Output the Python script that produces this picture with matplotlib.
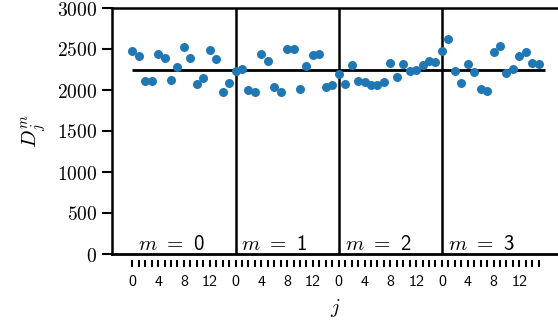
import numpy as np
import matplotlib
matplotlib.use("Agg")
import matplotlib.pyplot as plt
from matplotlib.ticker import FuncFormatter, MultipleLocator

plt.rcParams['mathtext.fontset'] = 'cm'

# D_j^m for m = 0..3, j = 0..15
d_m0 = [2472, 2418, 2113, 2113, 2439, 2390, 2122, 2280,
        2528, 2390, 2073, 2142, 2488, 2382, 1980, 2081]
d_m1 = [2228, 2252, 2000, 1972, 2435, 2350, 2033, 1980,
        2504, 2504, 2008, 2293, 2427, 2439, 2033, 2061]
d_m2 = [2191, 2069, 2309, 2113, 2098, 2061, 2061, 2094,
        2325, 2155, 2321, 2236, 2244, 2309, 2354, 2337]
d_m3 = [2470, 2616, 2236, 2085, 2317, 2216, 2012, 1992,
        2467, 2532, 2207, 2256, 2411, 2463, 2329, 2317]
groups = [d_m0, d_m1, d_m2, d_m3]
mean_level = 2250
n_j = 16
j_labels = [0, 4, 8, 12]

fig = plt.figure(figsize=(5.58, 3.29), dpi=100)
ax = fig.add_axes([112 / 558, 1 - 254 / 329, 446 / 558, 246 / 329])

values = np.concatenate(groups)
xpos = np.arange(len(values))
ax.scatter(xpos, values, s=42, color='#1f77b4', zorder=3, linewidths=0)

ax.hlines(mean_level, 0, len(groups) * n_j, color='black', lw=2, zorder=2)
for m in range(1, len(groups)):
    ax.axvline(m * n_j, color='black', lw=1.8, zorder=2)
for m in range(len(groups)):
    ax.text(m * n_j + 0.9, 45, rf'$m$ $=$ {m}', fontsize=15, family='cmss10',
            ha='left', va='baseline')

ax.axhline(0, color='black', lw=2, clip_on=False, zorder=4)

ax.set_xlim(-3.15, 66.0)
ax.set_ylim(0, 3000)

ax.spines['right'].set_visible(False)
ax.spines['bottom'].set_visible(False)
ax.spines['bottom'].set_position(('outward', 4))
for s in ['left', 'top']:
    ax.spines[s].set_linewidth(1.8)

ax.yaxis.set_major_locator(MultipleLocator(500))
ax.yaxis.set_major_formatter(FuncFormatter(lambda v, p: rf'${int(v)}$'))
ax.tick_params(axis='y', length=7, width=1.5, labelsize=14)

ax.set_xticks(xpos)
ax.set_xticklabels([str(i % n_j) if (i % n_j) in j_labels else '' for i in xpos],
                   family='cmss10')
ax.tick_params(axis='x', length=5, width=1.5, labelsize=11.5, pad=6)

ax.set_xlabel(r'$j$', fontsize=15, labelpad=6)
ax.set_ylabel(r'$D_j^m$', fontsize=15, labelpad=6)

fig.savefig('out.png', dpi=100)
